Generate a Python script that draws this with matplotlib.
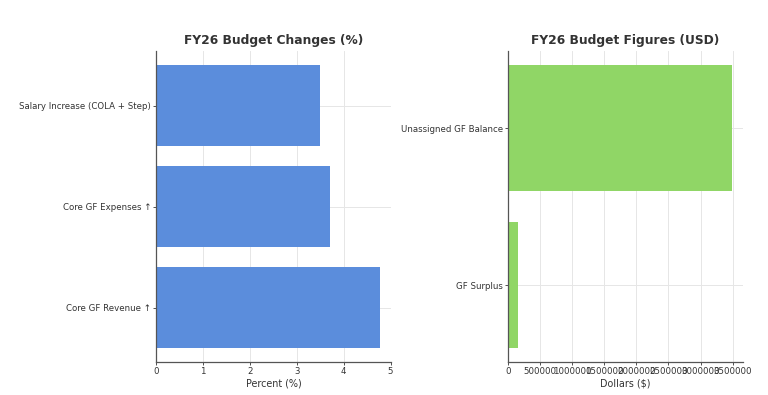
from matplotlib import pyplot as plt

# 数据
pct_labels = ['Core GF Revenue ↑', 'Core GF Expenses ↑', 'Salary Increase (COLA + Step)']
pct_values = [4.77, 3.7, 3.5]

usd_labels = ['GF Surplus', 'Unassigned GF Balance']
usd_values = [160000, 3490000]

plt.rcParams['font.family'] = ['DejaVu Sans']
plt.rcParams['text.color'] = '#333333'
plt.rcParams['axes.labelcolor'] = '#333333'
plt.rcParams['xtick.color'] = '#333333'
plt.rcParams['ytick.color'] = '#333333'

fig = plt.figure(figsize=(7.68, 3.95), dpi=100)
ax1 = fig.add_axes([0.203, 0.083, 0.306, 0.787])
ax2 = fig.add_axes([0.661, 0.083, 0.307, 0.787])

def style(ax):
    ax.set_axisbelow(True)
    ax.grid(True, color='#e6e6e6', linewidth=0.7)
    for s in ['top', 'right']:
        ax.spines[s].set_visible(False)
    for s in ['left', 'bottom']:
        ax.spines[s].set_color('#555555')
        ax.spines[s].set_linewidth(0.9)
    ax.tick_params(labelsize=6.2, length=2, width=0.6, pad=1.5)

ax1.barh(pct_labels, pct_values, color='#5b8ddc')
ax1.set_title('FY26 Budget Changes (%)', fontsize=8.8, fontweight='bold', pad=5)
ax1.set_xlabel('Percent (%)', fontsize=6.9, labelpad=1.5)
style(ax1)

ax2.barh(usd_labels, usd_values, color='#90d666')
ax2.set_title('FY26 Budget Figures (USD)', fontsize=8.8, fontweight='bold', pad=5)
ax2.set_xlabel('Dollars ($)', fontsize=6.9, labelpad=1.5)
ax2.ticklabel_format(axis='x', style='plain')
style(ax2)

plt.savefig('out.png', dpi=100)
